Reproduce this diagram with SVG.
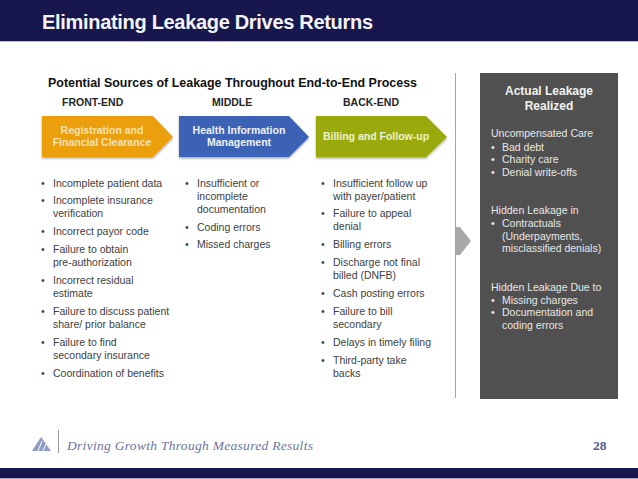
<svg xmlns="http://www.w3.org/2000/svg" width="638" height="479" viewBox="0 0 638 479">
<style>
text{font-family:"Liberation Sans",Arial,sans-serif}
.body{font-size:10.5px;fill:#404040}
.pan{font-size:10.5px;fill:#e8e8e8}
.hd{font-size:10.5px;font-weight:bold;fill:#262626}
.chev{font-size:10.5px;font-weight:bold;text-anchor:middle}
.foot{font-family:"Liberation Serif",serif}
</style>
<defs>
<filter id="sh" x="-10%" y="-10%" width="120%" height="130%"><feDropShadow dx="0" dy="1.5" stdDeviation="1" flood-color="#000" flood-opacity="0.35"/></filter>
</defs>
<rect width="638" height="479" fill="#fff"/>
<g id="header">
<rect width="638" height="41" fill="#17174d"/>
<rect y="41" width="638" height="1" fill="#b9b9c6"/>
<text x="42" y="29" font-size="20" font-weight="bold" fill="#f4f4f8" textLength="331" lengthAdjust="spacing">Eliminating Leakage Drives Returns</text>
</g>
<g id="headings">
<text x="48" y="87" font-size="13" font-weight="bold" fill="#111" textLength="369" lengthAdjust="spacingAndGlyphs">Potential Sources of Leakage Throughout End-to-End Process</text>
<text x="62" y="106" class="hd">FRONT-END</text>
<text x="212" y="106" class="hd">MIDDLE</text>
<text x="343" y="106" class="hd">BACK-END</text>
</g>
<g id="node-registration">
<polygon points="42,116 153,116 173,137 153,157 42,157" fill="#eb9f0f" filter="url(#sh)"/>
<text x="102" y="134" class="chev" fill="#f8e2b0">Registration and</text>
<text x="102" y="146" class="chev" fill="#f8e2b0">Financial Clearance</text>
</g>
<g id="node-him">
<polygon points="179,116 289,116 309,137 289,157 179,157" fill="#3b62b5" filter="url(#sh)"/>
<text x="239" y="134" class="chev" fill="#eef1f8">Health Information</text>
<text x="239" y="146" class="chev" fill="#eef1f8">Management</text>
</g>
<g id="node-billing">
<polygon points="316,116 426,116 447,137 426,157 316,157" fill="#9aaa0a" filter="url(#sh)"/>
<text x="376" y="140" class="chev" fill="#eef2d0">Billing and Follow-up</text>
</g>
<g id="list-front" class="body">
<text class="body" x="41" y="187">•</text><text class="body" x="53" y="187">Incomplete patient data</text>
<text class="body" x="41" y="204">•</text><text class="body" x="53" y="204">Incomplete insurance</text>
<text class="body" x="53" y="217">verification</text>
<text class="body" x="41" y="235">•</text><text class="body" x="53" y="235">Incorrect payor code</text>
<text class="body" x="41" y="253">•</text><text class="body" x="53" y="253">Failure to obtain</text>
<text class="body" x="53" y="266">pre-authorization</text>
<text class="body" x="41" y="284">•</text><text class="body" x="53" y="284">Incorrect residual</text>
<text class="body" x="53" y="297">estimate</text>
<text class="body" x="41" y="315">•</text><text class="body" x="53" y="315">Failure to discuss patient</text>
<text class="body" x="53" y="328">share/ prior balance</text>
<text class="body" x="41" y="346">•</text><text class="body" x="53" y="346">Failure to find</text>
<text class="body" x="53" y="359">secondary insurance</text>
<text class="body" x="41" y="377">•</text><text class="body" x="53" y="377">Coordination of benefits</text>
</g>
<g id="list-middle">
<text class="body" x="185" y="187">•</text><text class="body" x="197" y="187">Insufficient or</text>
<text class="body" x="197" y="200">incomplete</text>
<text class="body" x="197" y="213">documentation</text>
<text class="body" x="185" y="231">•</text><text class="body" x="197" y="231">Coding errors</text>
<text class="body" x="185" y="248">•</text><text class="body" x="197" y="248">Missed charges</text>
</g>
<g id="list-back">
<text class="body" x="321" y="187">•</text><text class="body" x="333" y="187">Insufficient follow up</text>
<text class="body" x="333" y="200">with payer/patient</text>
<text class="body" x="321" y="217">•</text><text class="body" x="333" y="217">Failure to appeal</text>
<text class="body" x="333" y="230">denial</text>
<text class="body" x="321" y="248">•</text><text class="body" x="333" y="248">Billing errors</text>
<text class="body" x="321" y="266">•</text><text class="body" x="333" y="266">Discharge not final</text>
<text class="body" x="333" y="279">billed (DNFB)</text>
<text class="body" x="321" y="297">•</text><text class="body" x="333" y="297">Cash posting errors</text>
<text class="body" x="321" y="315">•</text><text class="body" x="333" y="315">Failure to bill</text>
<text class="body" x="333" y="328">secondary</text>
<text class="body" x="321" y="346">•</text><text class="body" x="333" y="346">Delays in timely filing</text>
<text class="body" x="321" y="364">•</text><text class="body" x="333" y="364">Third-party take</text>
<text class="body" x="333" y="377">backs</text>
</g>
<g id="connectors">
<line x1="455.5" y1="73" x2="455.5" y2="398" stroke="#a6a6a6" stroke-width="1"/>
<polygon points="456,227 460,227 471,241 460,255 456,255" fill="#a9a9a9"/>
</g>
<g id="node-actual-leakage">
<rect x="480" y="73" width="138" height="326" fill="#505050"/>
<text x="549" y="95" font-size="12" font-weight="bold" fill="#f2f2f2" text-anchor="middle">Actual Leakage</text>
<text x="549" y="110" font-size="12" font-weight="bold" fill="#f2f2f2" text-anchor="middle">Realized</text>
<text class="pan" x="491" y="137">Uncompensated Care</text>
<text class="pan" x="491" y="151">•</text><text class="pan" x="502" y="151">Bad debt</text>
<text class="pan" x="491" y="163">•</text><text class="pan" x="502" y="163">Charity care</text>
<text class="pan" x="491" y="176">•</text><text class="pan" x="502" y="176">Denial write-offs</text>
<text class="pan" x="491" y="214">Hidden Leakage in</text>
<text class="pan" x="491" y="227">•</text><text class="pan" x="502" y="227">Contractuals</text>
<text class="pan" x="502" y="240">(Underpayments,</text>
<text class="pan" x="502" y="252">misclassified denials)</text>
<text class="pan" x="491" y="291">Hidden Leakage Due to</text>
<text class="pan" x="491" y="304">•</text><text class="pan" x="502" y="304">Missing charges</text>
<text class="pan" x="491" y="316">•</text><text class="pan" x="502" y="316">Documentation and</text>
<text class="pan" x="502" y="329">coding errors</text>
</g>
<g id="footer">
<polygon points="32,451 41,437 51,451" fill="#8f9cc6"/>
<path d="M38,451 L42,441 M43,451 L46,444" stroke="#fff" stroke-width="1" fill="none"/>
<line x1="58.5" y1="430" x2="58.5" y2="453" stroke="#9a9a9a" stroke-width="1"/>
<text class="foot" x="67" y="450" font-size="13.5" font-style="italic" fill="#6b74a3" textLength="246" lengthAdjust="spacing">Driving Growth Through Measured Results</text>
<text class="foot" x="593" y="450" font-size="13.5" font-weight="bold" fill="#4f5d95">28</text>
<rect y="468" width="638" height="10" fill="#17174d"/>
<rect y="478" width="638" height="1" fill="#a9a9c4"/>
</g>
</svg>
